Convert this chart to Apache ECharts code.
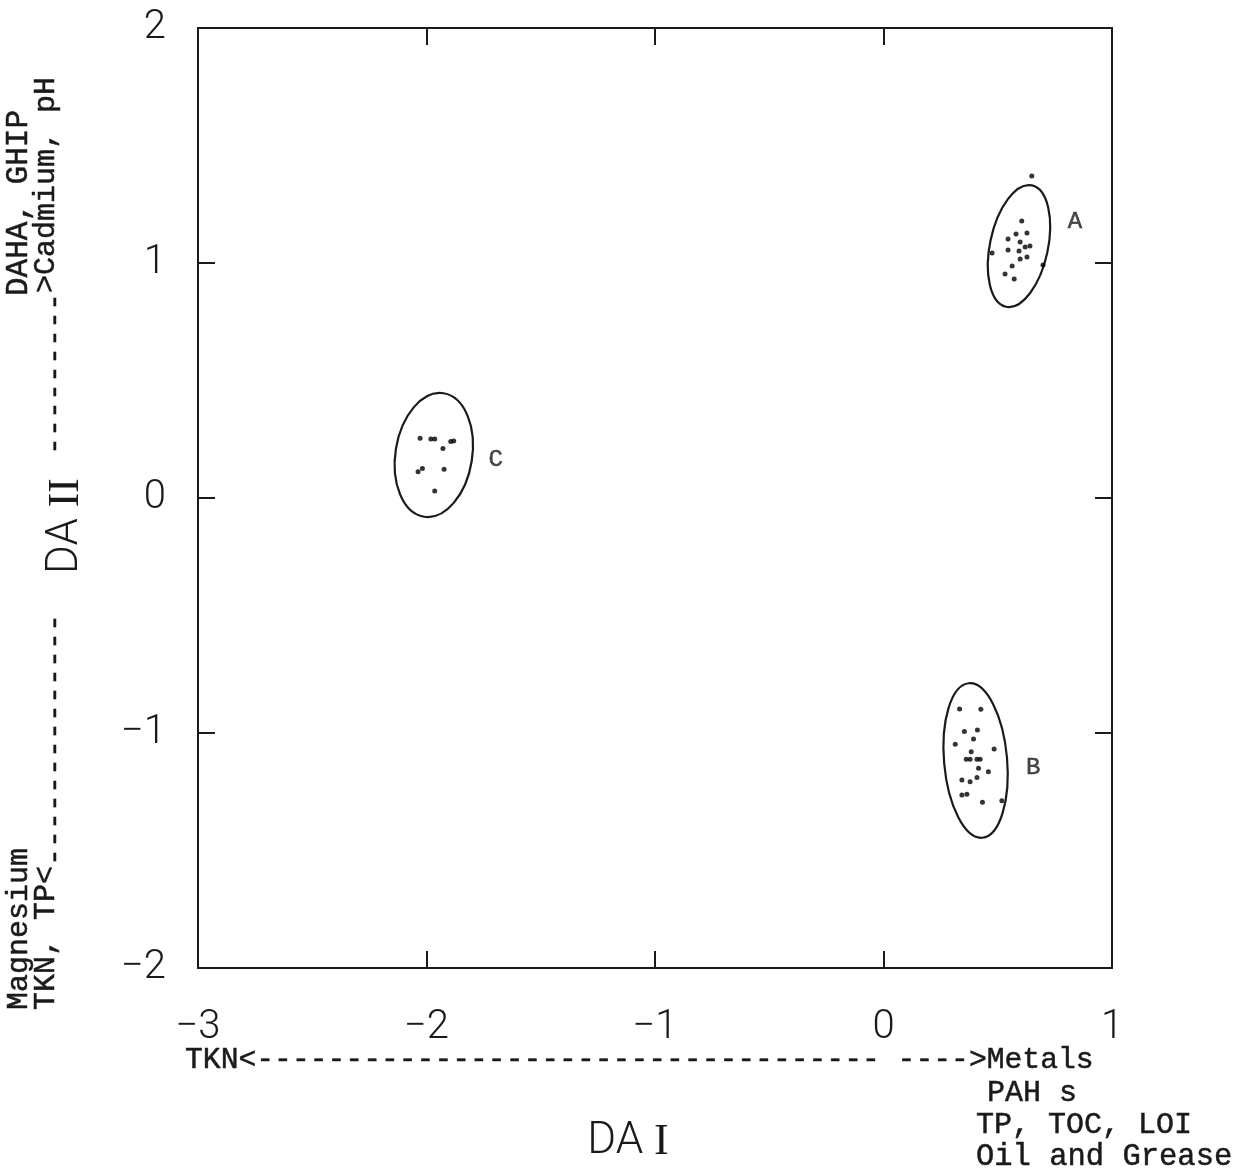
<!DOCTYPE html>
<html>
<head>
<meta charset="utf-8">
<script src="https://cdn.jsdelivr.net/npm/echarts@6/dist/echarts.min.js"></script>
<style>html,body{margin:0;padding:0;background:#fff;}#main{width:1247px;height:1172px;}</style>
</head>
<body>
<div id="main"></div>
<script>
// ---- data ----
const xTicks = [-3, -2, -1, 0, 1];
const yTicks = [-2, -1, 0, 1, 2];
const groupA = [[0.649,1.370],[0.605,1.179],[0.545,1.102],[0.580,1.123],[0.628,1.128],[0.598,1.089],[0.641,1.072],[0.545,1.055],[0.593,1.051],[0.620,1.068],[0.598,1.017],[0.628,1.026],[0.563,0.987],[0.532,0.953],[0.572,0.932],[0.475,1.043],[0.698,0.991]];
const groupB = [[0.333,-0.898],[0.426,-0.899],[0.354,-0.994],[0.411,-0.987],[0.394,-1.026],[0.314,-1.048],[0.484,-1.068],[0.384,-1.080],[0.362,-1.112],[0.379,-1.112],[0.409,-1.112],[0.423,-1.112],[0.416,-1.150],[0.459,-1.165],[0.409,-1.189],[0.343,-1.200],[0.379,-1.207],[0.343,-1.264],[0.365,-1.261],[0.433,-1.295],[0.518,-1.288]];
const groupC = [[-2.028,0.254],[-1.981,0.251],[-1.964,0.251],[-1.894,0.240],[-1.881,0.243],[-1.928,0.211],[-2.037,0.112],[-2.018,0.126],[-1.923,0.122],[-1.964,0.030]];
// ellipses: [centerX, centerY, radiusX, radiusY, tiltDeg]
const ellipses = [[0.593,1.072,0.127,0.264,-12],[0.403,-1.117,0.138,0.330,5],[-1.968,0.183,0.168,0.266,-9]];
const groupLabels = [[0.838,1.174,'A'],[0.655,-1.149,'B'],[-1.697,0.162,'C']];

const chart = echarts.init(document.getElementById('main'));
const mono = '"Liberation Mono", "DejaVu Sans Mono", monospace';
const sans = 'Roboto, "Liberation Sans", sans-serif';
const numFont = '"Liberation Serif", "DejaVu Serif", serif';
const ink = '#1a1a1a';
const fmt = v => String(v).replace('-', '\u2212');
const axisCommon = {
  min: -3, max: 1, interval: 1,
  axisLine: {show: true, onZero: false, lineStyle: {color: ink, width: 2}},
  axisTick: {show: true, inside: true, length: 17, lineStyle: {color: ink, width: 2}},
  splitLine: {show: false}
};
const monoText = (x, y, text, rot, size) => ({
  type: 'text', x: x, y: y, rotation: rot || 0,
  style: {text: text, font: (size || 30) + 'px ' + mono, fill: ink, stroke: ink, lineWidth: 0.5,
    align: 'left', verticalAlign: 'middle'}
});
const daText = (x, y, num, rot) => ({
  type: 'text', x: x, y: y, rotation: rot || 0,
  style: {text: '{a|DA }{b|' + num + '}', align: 'center', verticalAlign: 'middle', fill: ink,
    rich: {a: {font: '300 44px ' + sans, fill: ink}, b: {font: '44px ' + numFont, fill: ink}}}
});
chart.setOption({
  animation: false,
  backgroundColor: '#fff',
  grid: {left: 198, right: 135, top: 28, bottom: 204},
  xAxis: [
    Object.assign({}, axisCommon, {type: 'value', position: 'bottom',
      axisLabel: {margin: 40, fontSize: 40, fontFamily: sans, fontWeight: 300, color: ink, formatter: fmt}}),
    Object.assign({}, axisCommon, {type: 'value', position: 'top', axisLabel: {show: false}})
  ],
  yAxis: [
    Object.assign({}, axisCommon, {type: 'value', min: -2, max: 2, position: 'left',
      axisLabel: {margin: 32, fontSize: 40, fontFamily: sans, fontWeight: 300, color: ink, formatter: fmt}}),
    Object.assign({}, axisCommon, {type: 'value', min: -2, max: 2, position: 'right', axisLabel: {show: false}})
  ],
  series: [
    {type: 'custom', data: ellipses, renderItem: function (params, api) {
      const c = api.coord([api.value(0), api.value(1)]);
      const s = api.size([api.value(2), api.value(3)]);
      return {type: 'ellipse', x: c[0], y: c[1], rotation: api.value(4) * Math.PI / 180,
        shape: {cx: 0, cy: 0, rx: s[0], ry: s[1]},
        style: {fill: 'none', stroke: ink, lineWidth: 2.2}};
    }, silent: true},
    {type: 'scatter', data: groupA, symbolSize: 5, itemStyle: {color: '#000'}},
    {type: 'scatter', data: groupB, symbolSize: 5, itemStyle: {color: '#000'}},
    {type: 'scatter', data: groupC, symbolSize: 5, itemStyle: {color: '#000'}},
    {type: 'scatter', data: groupLabels, symbolSize: 0,
      label: {show: true, position: 'inside', formatter: p => p.data[2], fontFamily: mono, fontSize: 24,
        color: ink, textBorderColor: ink, textBorderWidth: 0.5}}
  ],
  graphic: [
    monoText(185, 1060, 'TKN<----------------------------------- ---->Metals', 0, 29.7),
    monoText(987, 1093, 'PAH s'),
    monoText(976, 1125, 'TP, TOC, LOI'),
    monoText(976, 1157, 'Oil and Grease', 0, 30.5),
    daText(628, 1142, 'I'),
    monoText(19, 1010, 'Magnesium', Math.PI / 2),
    monoText(19, 296, 'DAHA, GHIP', Math.PI / 2, 31),
    monoText(46, 1010, 'TKN, TP<', Math.PI / 2),
    monoText(55, 866, '--------------', Math.PI / 2),
    monoText(55, 455, '---------', Math.PI / 2),
    monoText(46, 293, '>Cadmium, pH', Math.PI / 2),
    daText(66, 526, 'II', Math.PI / 2)
  ]
});
</script>
</body>
</html>
